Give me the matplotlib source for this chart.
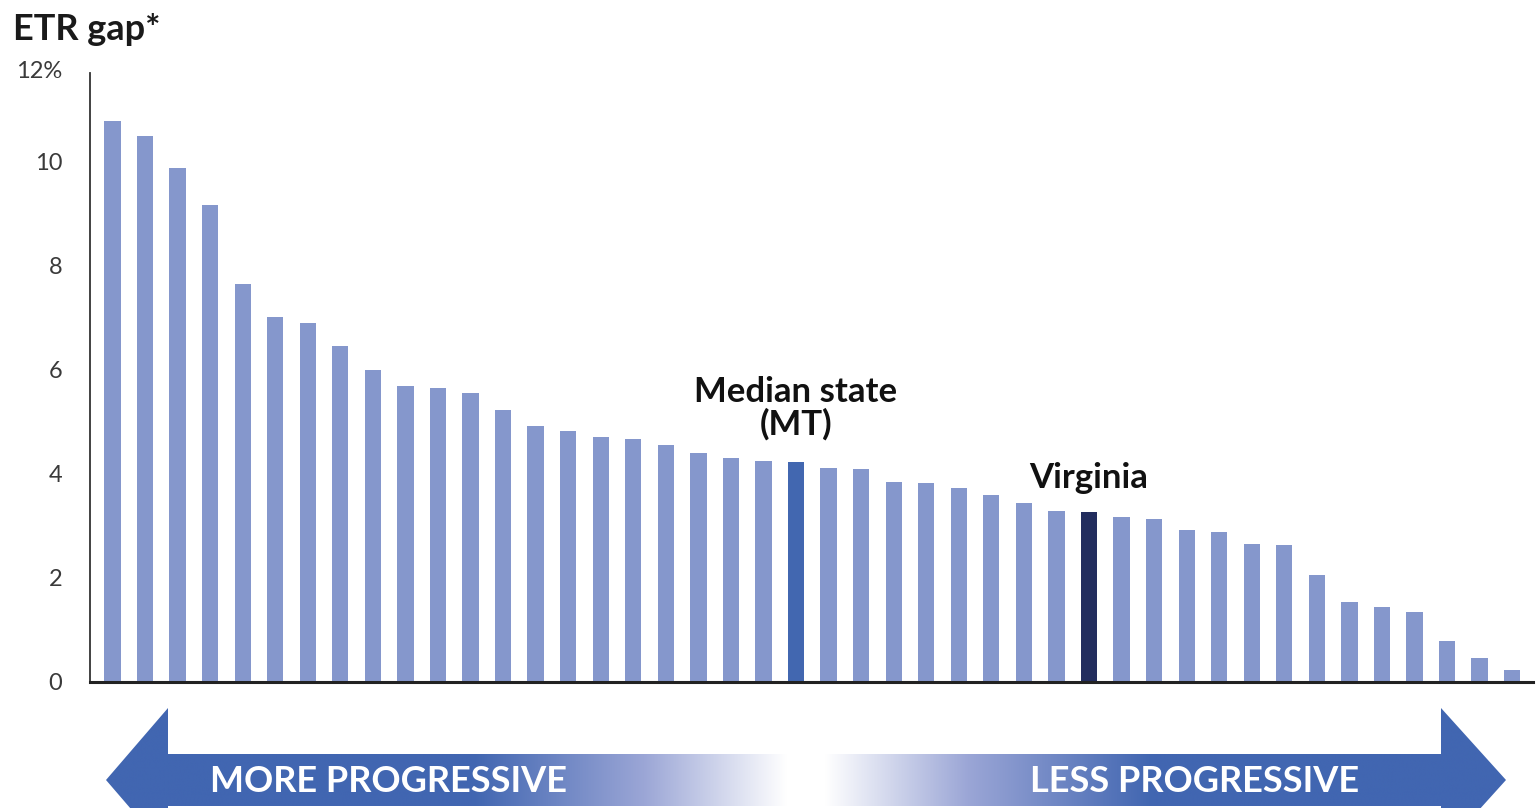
import matplotlib
matplotlib.use("Agg")
import matplotlib.pyplot as plt
import matplotlib.transforms as mtransforms
from matplotlib.patches import Polygon
from matplotlib.colors import LinearSegmentedColormap
import numpy as np

# ETR gap by state, sorted from most to least progressive
etr_gap = [10.78, 10.50, 9.88, 9.17, 7.64, 7.01, 6.89, 6.46, 6.00, 5.69, 5.64,
           5.54, 5.22, 4.91, 4.82, 4.71, 4.66, 4.55, 4.40, 4.30, 4.25, 4.23,
           4.10, 4.09, 3.83, 3.81, 3.73, 3.58, 3.43, 3.27, 3.26, 3.17, 3.13,
           2.91, 2.88, 2.65, 2.63, 2.04, 1.53, 1.43, 1.33, 0.77, 0.45, 0.22]
median_idx = 21      # MT
virginia_idx = 30

y_ticks = [0, 2, 4, 6, 8, 10, 12]
y_tick_labels = ["0", "2", "4", "6", "8", "10", "12%"]

BAR = "#8597CC"
MEDIAN = "#4267B0"
VA = "#222D5E"
FONT = ["Lato", "DejaVu Sans"]

W, H = 1537, 808
fig = plt.figure(figsize=(W / 100, H / 100), dpi=100)

# --- bottom arrows, drawn in pixel coordinates on a full-figure overlay
ov = fig.add_axes([0, 0, 1, 1])
ov.set_xlim(0, W)
ov.set_ylim(H, 0)
ov.axis("off")

blue = np.array([65, 102, 177]) / 255
lav = np.array([155, 166, 214]) / 255
white = np.array([1.0, 1.0, 1.0])


def gradient_arrow(pts, x0, x1, stops):
    cmap = LinearSegmentedColormap.from_list("g", stops)
    grad = np.linspace(0, 1, 512).reshape(1, -1)
    poly = Polygon(pts, closed=True, facecolor="none", edgecolor="none")
    ov.add_patch(poly)
    im = ov.imshow(grad, cmap=cmap, extent=[x0, x1, 860, 700],
                   aspect="auto", interpolation="bicubic")
    im.set_clip_path(poly)


left_pts = [(106, 780), (168, 708), (168, 754), (788, 754),
            (788, 806), (168, 806), (168, 852)]
gradient_arrow(left_pts, 106, 788,
               [(0.0, blue), (0.54, blue), (0.79, lav), (1.0, white)])

right_pts = [(1506, 780), (1441, 708), (1441, 754), (824, 754),
             (824, 806), (1441, 806), (1441, 852)]
gradient_arrow(right_pts, 824, 1506,
               [(0.0, white), (0.21, lav), (0.48, blue), (1.0, blue)])

arrow_font = dict(color="white", fontsize=26, fontweight="bold",
                  ha="center", va="center", family=FONT)
ov.text(389, 781, "MORE PROGRESSIVE", **arrow_font)
ov.text(1195, 781, "LESS PROGRESSIVE", **arrow_font)

# --- main bar chart
ax = fig.add_axes([90 / W, (H - 681.5) / H, (1533 - 90) / W, 624 / H])
ax.patch.set_alpha(0)

x = np.arange(len(etr_gap))
colors = [BAR] * len(etr_gap)
colors[median_idx] = MEDIAN
colors[virginia_idx] = VA
ax.bar(x, etr_gap, width=0.5, color=colors, zorder=2)

ax.set_xlim(-0.69, 43.64)
ax.set_ylim(0, 12)
ax.set_xticks([])
ax.set_yticks(y_ticks)
ax.set_yticklabels(y_tick_labels, family=FONT, fontsize=17, color="#3a3a3a")
ax.tick_params(axis="y", length=0, pad=20)
# the top label sits a little lower than its gridline value
top_lbl = ax.get_yticklabels()[-1]
top_lbl.set_transform(top_lbl.get_transform() +
                      mtransforms.ScaledTranslation(0, -0.12, fig.dpi_scale_trans))

for s in ["top", "right"]:
    ax.spines[s].set_visible(False)
ax.spines["left"].set_bounds(0, 11.7)
ax.spines["left"].set_color("#333333")
ax.spines["bottom"].set_color("#222222")
ax.spines["left"].set_linewidth(1.3)
ax.spines["bottom"].set_linewidth(2.2)

fig.text(13 / W, 1 - 30 / H, "ETR gap*", family=FONT, fontweight="bold",
         fontsize=26, va="center", ha="left", color="#1a1a1a")

ax.annotate("Median state\n(MT)", (median_idx, etr_gap[median_idx]),
            xytext=(0, 15), textcoords="offset points", ha="center",
            va="bottom", family=FONT, fontweight="bold", fontsize=25,
            linespacing=1.0, color="#111111")
ax.annotate("Virginia", (virginia_idx, etr_gap[virginia_idx]),
            xytext=(0, 13), textcoords="offset points", ha="center",
            va="bottom", family=FONT, fontweight="bold", fontsize=25,
            color="#111111")

fig.savefig("out.png", dpi=100, facecolor="white")
